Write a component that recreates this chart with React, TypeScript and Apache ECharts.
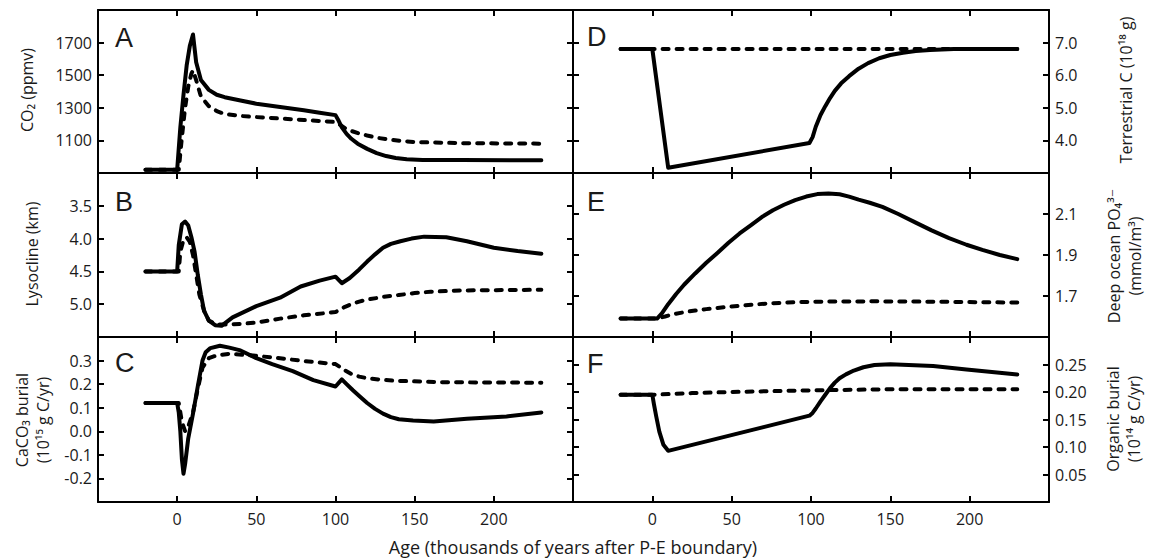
import React, { useEffect, useRef } from "react";
import * as echarts from "echarts";

// ---------- data ----------
const xMin = -50;
const xMax = 250;
const xStep = 50;

// A: CO2 (ppmv)
const co2Solid = [
  [-20, 920], [0, 920], [2, 1180], [4, 1380], [6, 1560], [8, 1680], [10, 1750], [12, 1580],
  [15, 1470], [20, 1410], [25, 1380], [30, 1365], [40, 1345], [50, 1325], [65, 1305],
  [80, 1285], [90, 1270], [100, 1255], [102, 1220], [104, 1180], [107, 1140], [110, 1110],
  [114, 1080], [120, 1048], [126, 1022], [132, 1004], [138, 992], [145, 984], [155, 980],
  [180, 980], [230, 978],
];
const co2Dashed = [
  [-20, 920], [1, 920], [3, 1120], [5, 1300], [7, 1430], [9, 1510], [10, 1530], [12, 1470],
  [15, 1370], [20, 1310], [25, 1280], [30, 1262], [40, 1250], [50, 1243], [65, 1234],
  [80, 1225], [100, 1213], [103, 1195], [106, 1175], [110, 1158], [115, 1142], [120, 1130],
  [127, 1115], [135, 1104], [143, 1095], [150, 1090], [180, 1083], [230, 1080],
];

// B: Lysocline (km)
const lysoSolid = [
  [-20, 4.5], [0, 4.5], [1, 4.1], [3, 3.78], [5, 3.74], [7, 3.8], [9, 3.98], [11, 4.2],
  [13, 4.55], [15, 4.85], [17, 5.1], [20, 5.25], [24, 5.32], [28, 5.33], [35, 5.2],
  [50, 5.03], [65, 4.9], [78, 4.73], [90, 4.64], [100, 4.58], [104, 4.68], [109, 4.6],
  [115, 4.47], [120, 4.35], [125, 4.24], [130, 4.14], [135, 4.08], [141, 4.04], [148, 4.0],
  [156, 3.97], [170, 3.98], [183, 4.04], [200, 4.14], [215, 4.19], [230, 4.23],
];
const lysoDashed = [
  [-20, 4.5], [1, 4.5], [2, 4.2], [4, 4.02], [6, 3.98], [8, 4.05], [10, 4.25], [12, 4.55],
  [14, 4.85], [17, 5.1], [20, 5.25], [25, 5.31], [30, 5.31], [40, 5.3], [50, 5.28],
  [65, 5.22], [80, 5.17], [100, 5.12], [103, 5.08], [106, 5.04], [110, 5.0], [115, 4.96],
  [120, 4.93], [130, 4.89], [140, 4.86], [150, 4.83], [160, 4.81], [180, 4.79], [230, 4.78],
];

// C: CaCO3 burial (10^15 g C/yr)
const caco3Solid = [
  [-20, 0.12], [0, 0.12], [1, 0.08], [2, 0.0], [3, -0.12], [4, -0.18], [5, -0.14], [7, -0.03],
  [10, 0.075], [13, 0.19], [16, 0.3], [18, 0.335], [21, 0.353], [27, 0.363], [33, 0.355],
  [40, 0.343], [50, 0.31], [60, 0.285], [73, 0.255], [86, 0.217], [100, 0.19], [104, 0.22],
  [107, 0.2], [111, 0.174], [115, 0.15], [120, 0.12], [125, 0.095], [130, 0.075],
  [135, 0.06], [140, 0.051], [149, 0.046], [162, 0.042], [183, 0.053], [208, 0.063], [230, 0.08],
];
const caco3Dashed = [
  [-20, 0.12], [1, 0.12], [3, 0.04], [5, 0.0], [7, 0.02], [10, 0.08], [13, 0.18], [16, 0.27],
  [20, 0.31], [25, 0.322], [33, 0.329], [50, 0.32], [65, 0.31], [80, 0.298], [100, 0.285],
  [103, 0.272], [106, 0.258], [110, 0.243], [115, 0.232], [120, 0.225], [130, 0.218],
  [139, 0.214], [170, 0.208], [230, 0.206],
];

// D: Terrestrial C (10^18 g)
const terrSolid = [
  [-20, 6.8], [0, 6.8], [10, 3.16], [99, 3.92], [101, 4.1], [103, 4.42], [106, 4.78],
  [109, 5.05], [112, 5.3], [115, 5.52], [119, 5.75], [124, 5.97], [130, 6.2], [136, 6.37],
  [143, 6.52], [150, 6.62], [158, 6.69], [166, 6.74], [175, 6.77], [190, 6.8], [230, 6.8],
];
const terrDashed = [[-20, 6.8], [0, 6.8], [100, 6.8], [230, 6.8]];

// E: Deep ocean PO4 (mmol/m3)
const po4Solid = [
  [-20, 1.59], [3, 1.59], [6, 1.615], [10, 1.66], [15, 1.71], [20, 1.755], [27, 1.81],
  [34, 1.862], [41, 1.91], [48, 1.96], [55, 2.005], [62, 2.045], [69, 2.085], [76, 2.118],
  [83, 2.145], [90, 2.168], [97, 2.185], [104, 2.197], [111, 2.2], [118, 2.196], [124, 2.185],
  [130, 2.17], [137, 2.155], [145, 2.135], [155, 2.1], [166, 2.058], [176, 2.02], [187, 1.982],
  [198, 1.95], [208, 1.925], [219, 1.9], [230, 1.88],
];
const po4Dashed = [
  [-20, 1.59], [3, 1.59], [8, 1.6], [13, 1.611], [20, 1.621], [27, 1.629], [34, 1.636],
  [45, 1.645], [55, 1.652], [65, 1.659], [76, 1.665], [90, 1.67], [110, 1.673], [140, 1.674],
  [180, 1.672], [230, 1.668],
];

// F: Organic burial (10^14 g C/yr)
const orgSolid = [
  [-20, 0.195], [0, 0.195], [1, 0.178], [2.5, 0.155], [4.4, 0.128], [7, 0.104], [10, 0.093],
  [99, 0.157], [101, 0.162], [103, 0.17], [106, 0.183], [109, 0.195], [112, 0.207],
  [115, 0.217], [118, 0.225], [122, 0.232], [127, 0.239], [133, 0.245], [140, 0.249],
  [150, 0.2505], [177, 0.2474], [198, 0.241], [230, 0.2317],
];
const orgDashed = [
  [-20, 0.195], [0, 0.195], [25, 0.198], [50, 0.2], [100, 0.203], [150, 0.205], [230, 0.205],
];

// ---------- panel configuration (axis extents & tick steps) ----------
const panels = [
  { letter: "A", solid: co2Solid, dashed: co2Dashed, min: 900, max: 1900, step: 200, dec: 0, side: "left", inverse: false, bottom: false },
  { letter: "B", solid: lysoSolid, dashed: lysoDashed, min: 3.0, max: 5.5, step: 0.5, dec: 1, side: "left", inverse: true, bottom: false },
  { letter: "C", solid: caco3Solid, dashed: caco3Dashed, min: -0.3, max: 0.4, step: 0.1, dec: 1, side: "left", inverse: false, bottom: true },
  { letter: "D", solid: terrSolid, dashed: terrDashed, min: 3, max: 8, step: 1, dec: 1, side: "right", inverse: false, bottom: false },
  { letter: "E", solid: po4Solid, dashed: po4Dashed, min: 1.5, max: 2.3, step: 0.2, dec: 1, side: "right", inverse: false, bottom: false },
  { letter: "F", solid: orgSolid, dashed: orgDashed, min: 0, max: 0.3, step: 0.05, dec: 2, side: "right", inverse: false, bottom: true },
];

const boxes = [
  { left: 98, top: 10, width: 475, height: 163 },
  { left: 98, top: 173, width: 475, height: 164 },
  { left: 98, top: 337, width: 475, height: 165 },
  { left: 573, top: 10, width: 476, height: 163 },
  { left: 573, top: 173, width: 476, height: 164 },
  { left: 573, top: 337, width: 476, height: 165 },
];

const letterPos = [
  [115, 38], [115, 202], [115, 363], [587, 37], [587, 202], [587, 364],
];

const FONT = "'Open Sans', 'DejaVu Sans', sans-serif";
const TXT = "#1a1a1a";

function makeAxisLine() {
  return { show: true, onZero: false, lineStyle: { color: "#000", width: 2 } };
}
function makeTick() {
  return { show: true, inside: true, length: 6, lineStyle: { color: "#000", width: 2 } };
}

function buildOption() {
  const grid: any[] = [];
  const xAxis: any[] = [];
  const yAxis: any[] = [];
  const series: any[] = [];

  panels.forEach((p, i) => {
    const g0 = grid.length;
    grid.push({ ...boxes[i], show: false });
    const g1 = grid.length;
    grid.push({ ...boxes[i], show: false });

    [g0, g1].forEach((g, k) => {
      xAxis.push({
        type: "value",
        gridIndex: g,
        position: k === 0 ? "bottom" : "top",
        min: xMin,
        max: xMax,
        interval: xStep,
        axisLine: makeAxisLine(),
        splitLine: { show: false },
        axisTick: makeTick(),
        axisLabel: {
          show: k === 0 && p.bottom,
          showMinLabel: false,
          showMaxLabel: false,
          margin: 9,
          fontFamily: FONT,
          fontSize: 16,
          color: TXT,
          formatter: (v: number) => (v <= xMin || v >= xMax ? "" : String(v)),
        },
      });
      const pos = k === 0 ? p.side : p.side === "left" ? "right" : "left";
      yAxis.push({
        type: "value",
        gridIndex: g,
        position: pos,
        min: p.min,
        max: p.max,
        interval: p.step,
        inverse: p.inverse,
        axisLine: makeAxisLine(),
        splitLine: { show: false },
        axisTick: makeTick(),
        axisLabel: {
          show: k === 0,
          showMinLabel: false,
          showMaxLabel: false,
          margin: 6,
          fontFamily: FONT,
          fontSize: 16,
          color: TXT,
          formatter: (v: number) => Number(v).toFixed(p.dec),
        },
      });
    });

    const ax = xAxis.length - 2;
    const ay = yAxis.length - 2;
    series.push({
      type: "line",
      xAxisIndex: ax,
      yAxisIndex: ay,
      data: p.solid,
      showSymbol: false,
      symbol: "none",
      lineStyle: { color: "#000", width: 4, type: "solid", cap: "round", join: "round" },
    });
    series.push({
      type: "line",
      xAxisIndex: ax,
      yAxisIndex: ay,
      data: p.dashed,
      showSymbol: false,
      symbol: "none",
      lineStyle: { color: "#000", width: 4, type: [6, 8], cap: "round", join: "round" },
    });
  });

  const nameStyle = (text: string) => ({
    text,
    fontFamily: FONT,
    fontSize: 16,
    fill: TXT,
    align: "center",
    verticalAlign: "middle",
    lineHeight: 21,
  });

  const graphic: any[] = [
    { type: "text", x: 27, y: 90, rotation: Math.PI / 2, style: nameStyle("CO\u2082 (ppmv)") },
    { type: "text", x: 32, y: 254, rotation: Math.PI / 2, style: nameStyle("Lysocline (km)") },
    { type: "text", x: 32, y: 420, rotation: Math.PI / 2, style: nameStyle("CaCO\u2083 burial\n(10\u00B9\u2075 g C/yr)") },
    { type: "text", x: 1126, y: 90, rotation: Math.PI / 2, style: nameStyle("Terrestrial C (10\u00B9\u2078 g)") },
    { type: "text", x: 1124, y: 256, rotation: Math.PI / 2, style: nameStyle("Deep ocean PO\u2084\u00B3\u207B\n(mmol/m\u00B3)") },
    { type: "text", x: 1123, y: 419, rotation: Math.PI / 2, style: nameStyle("Organic burial\n(10\u00B9\u2074 g C/yr)") },
    {
      type: "text",
      x: 573,
      y: 547,
      style: { text: "Age (thousands of years after P-E boundary)", fontFamily: FONT, fontSize: 18, fill: TXT, align: "center", verticalAlign: "middle" },
    },
  ];
  panels.forEach((p, i) => {
    graphic.push({
      type: "text",
      x: letterPos[i][0],
      y: letterPos[i][1],
      style: { text: p.letter, fontFamily: "'Liberation Sans', Arial, sans-serif", fontSize: 27, fill: TXT, align: "left", verticalAlign: "middle" },
    });
  });

  return { animation: false, backgroundColor: "#fff", grid, xAxis, yAxis, series, graphic };
}

export default function App() {
  const ref = useRef<HTMLDivElement>(null);
  useEffect(() => {
    if (!ref.current) return;
    const chart = echarts.init(ref.current, undefined, { renderer: "svg" });
    chart.setOption(buildOption() as any);
    return () => chart.dispose();
  }, []);
  return (
    <div
      ref={ref}
      style={{ position: "fixed", left: 0, top: 0, width: 1149, height: 558, background: "#fff" }}
    />
  );
}
